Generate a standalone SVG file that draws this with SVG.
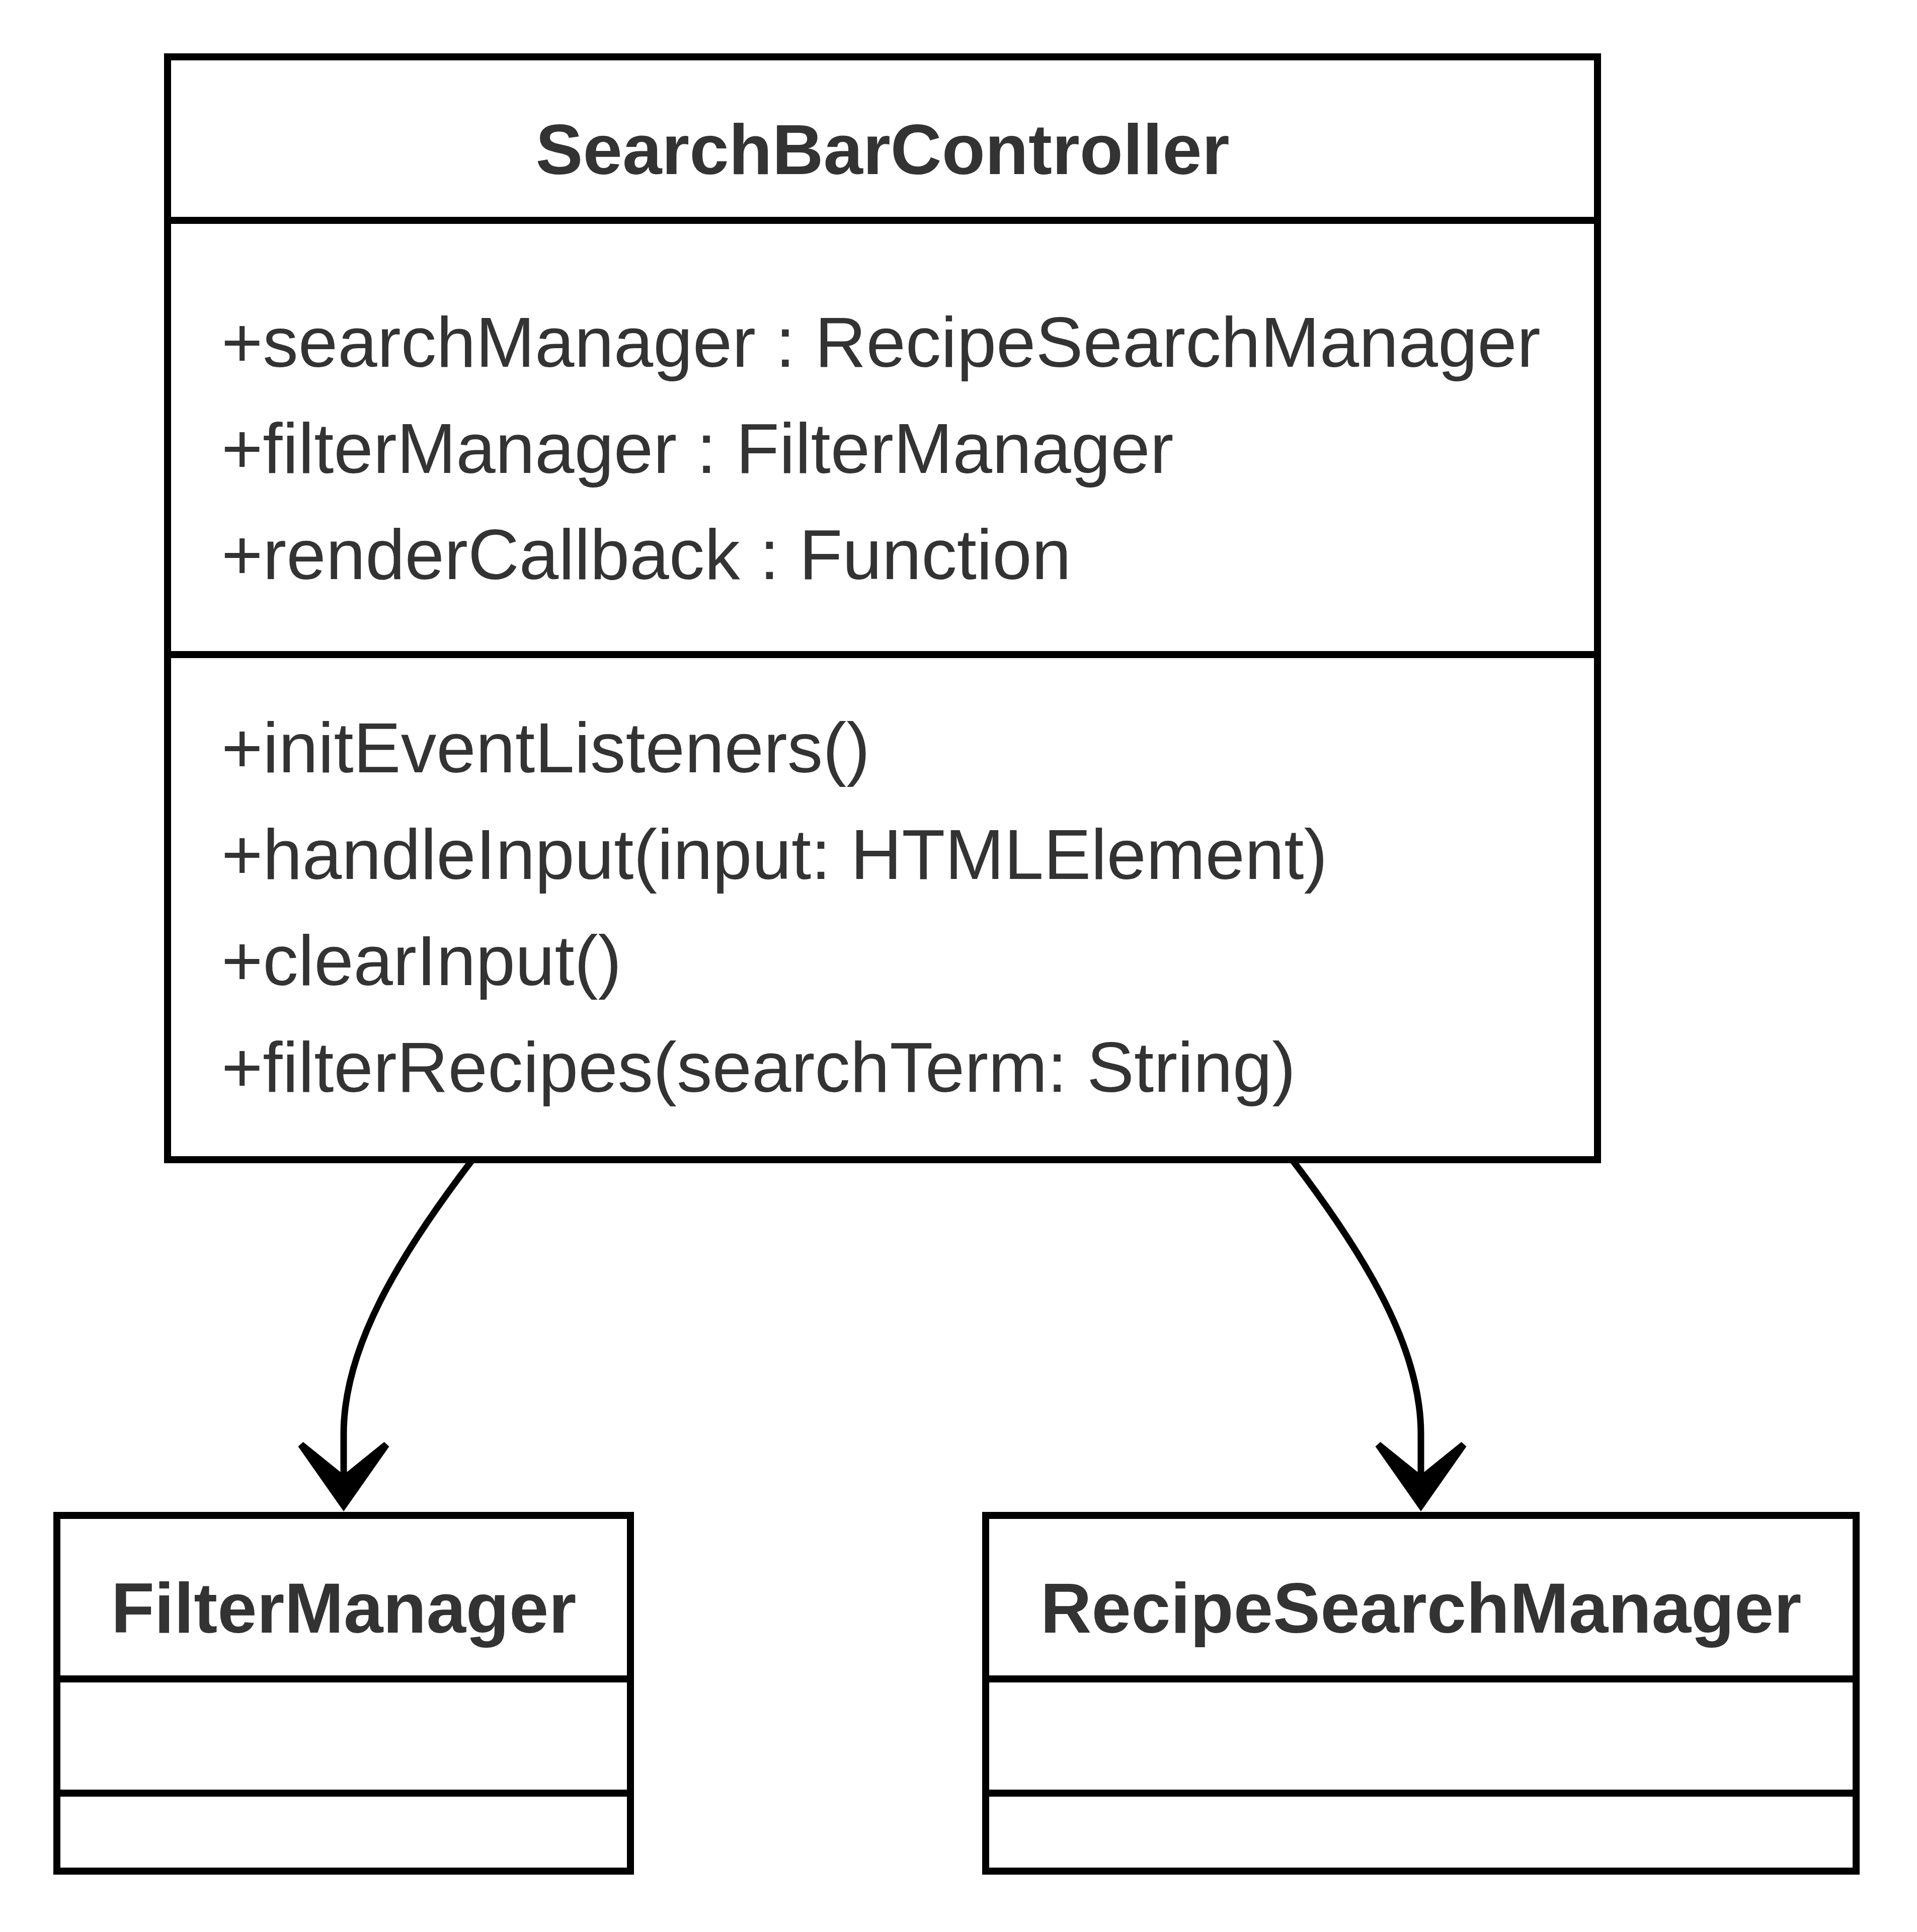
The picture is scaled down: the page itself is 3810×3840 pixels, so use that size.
<svg xmlns="http://www.w3.org/2000/svg" width="3810" height="3840" viewBox="0 0 3810 3840">
<style>
.box{fill:#ffffff;stroke:#000000;stroke-width:14}
.div{stroke:#000000;stroke-width:14;fill:none}
.edge{fill:none;stroke:#000000;stroke-width:13}
.t{font-family:"Liberation Sans",Arial,Helvetica,sans-serif;font-size:141px;fill:#333333}
.title{font-weight:bold;text-anchor:middle}
</style>
<defs>
<marker id="arrow" markerUnits="userSpaceOnUse" viewBox="-145 -100 150 200" markerWidth="150" markerHeight="200" refX="-73" refY="0" orient="auto">
<path d="M0,0 L-129,-90.5 L-138,-80.5 L-73,0 L-138,80.5 L-129,90.5 Z" fill="#000000"/>
</marker>
</defs>
<rect width="3810" height="3840" fill="#ffffff"/>
<g id="connectors">
<path class="edge" d="M939,2305 C790,2500 683,2680 683,2850 L683,2931" marker-end="url(#arrow)"/>
<path class="edge" d="M2568,2305 C2717,2500 2824,2680 2824,2850 L2824,2931" marker-end="url(#arrow)"/>
</g>
<g id="SearchBarController">
<rect class="box" x="333" y="113" width="2842" height="2192"/>
<line class="div" x1="333" y1="438" x2="3175" y2="438"/>
<line class="div" x1="333" y1="1301" x2="3175" y2="1301"/>
<text class="t title" x="1754" y="346">SearchBarController</text>
<text class="t" x="440" y="729">+searchManager : RecipeSearchManager</text>
<text class="t" x="440" y="940">+filterManager : FilterManager</text>
<text class="t" x="440" y="1151">+renderCallback : Function</text>
<text class="t" x="440" y="1535">+initEventListeners()</text>
<text class="t" x="440" y="1747">+handleInput(input: HTMLElement)</text>
<text class="t" x="440" y="1958">+clearInput()</text>
<text class="t" x="440" y="2170">+filterRecipes(searchTerm: String)</text>
</g>
<g id="FilterManager">
<rect class="box" x="113" y="3012" width="1140" height="707"/>
<line class="div" x1="113" y1="3337" x2="1253" y2="3337"/>
<line class="div" x1="113" y1="3564" x2="1253" y2="3564"/>
<text class="t title" x="683" y="3245">FilterManager</text>
</g>
<g id="RecipeSearchManager">
<rect class="box" x="1959" y="3012" width="1730" height="707"/>
<line class="div" x1="1959" y1="3337" x2="3689" y2="3337"/>
<line class="div" x1="1959" y1="3564" x2="3689" y2="3564"/>
<text class="t title" x="2824" y="3245">RecipeSearchManager</text>
</g>
</svg>
